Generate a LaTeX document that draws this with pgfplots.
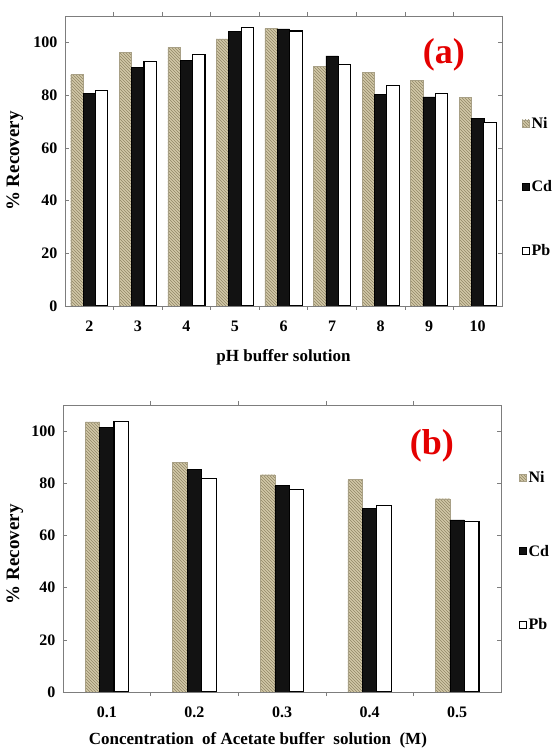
\documentclass[border=0pt]{standalone}
\usepackage{fontspec}
\setmainfont{Liberation Serif}
\usepackage{pgfplots}
\pgfplotsset{compat=1.18}
\usetikzlibrary{patterns}

\definecolor{nifill}{RGB}{210,200,168}
\definecolor{nihatch}{RGB}{145,135,102}
\definecolor{cdfill}{RGB}{18,18,18}
\definecolor{framegray}{RGB}{125,125,125}
\definecolor{lblred}{RGB}{228,0,0}

\pgfplotsset{
  mybars/.style={
    ybar=0pt, scale only axis, ymin=0, ymax=110, ytick={0,20,...,100},
    axis line style={draw=framegray, line width=0.8pt},
    tick style={draw=framegray, line width=0.6pt},
    major x tick style={draw=none},
    minor tick length=4pt, major tick length=4pt,
    /pgf/number format/assume math mode=true,
    tick label style={font=\fontsize{16}{19}\selectfont\bfseries},
    xticklabel style={yshift=-7pt},
    yticklabel style={xshift=-4pt},
    label style={font=\fontsize{17}{20}\selectfont\bfseries},
    ylabel={\% Recovery},
    ylabel style={font=\fontsize{19}{22}\selectfont\bfseries},
    legend cell align=left,
    legend image code/.code={\draw[#1, line width=0.8pt] (0pt,-3.5pt) rectangle (7pt,3.5pt);},
    every axis legend/.append style={draw=none, fill=none, anchor=west,
      font=\fontsize{16}{19}\selectfont\bfseries, inner xsep=0pt, inner ysep=0pt},
  },
  ni/.style={fill=nifill, draw=nifill!80!black, line width=0.3pt, postaction={pattern=north west lines, pattern color=nihatch}},
  cd/.style={fill=cdfill, draw=black, line width=0.5pt},
  pb/.style={fill=white, draw=black, line width=1.1pt},
}

\begin{document}
\begin{tikzpicture}
\useasboundingbox (0pt,0pt) rectangle (556pt,749pt);

% ---------- (a) ----------
\begin{axis}[mybars,
  at={(65pt,443pt)}, anchor=south west, width=437pt, height=290pt,
  bar width=12.4pt,
  xmin=0.5, xmax=9.5,
  xtick={1,...,9}, xticklabels={2,3,4,5,6,7,8,9,10},
  minor xtick={1.5,2.5,...,8.5},
  xlabel={pH buffer solution},
  xlabel style={at={(axis description cs:0.5,-0.176)}, anchor=center},
  ylabel style={at={(axis description cs:-0.115,0.5)}, anchor=center, rotate=0},
  legend style={at={(axis description cs:1.045,0.41)}, row sep=47pt},
]
\addplot[ni] coordinates {(1,87.8)(2,96.2)(3,98.1)(4,101.3)(5,105.3)(6,91.0)(7,88.6)(8,85.7)(9,79.1)};
\addplot[cd] coordinates {(1,80.7)(2,90.5)(3,93.3)(4,104.1)(5,105.1)(6,94.9)(7,80.3)(8,79.3)(9,71.1)};
\addplot[pb] coordinates {(1,81.6)(2,92.6)(3,95.3)(4,105.5)(5,104.3)(6,91.5)(7,83.6)(8,80.5)(9,69.5)};
\legend{Ni,Cd,Pb}
\node[text=lblred, font=\fontsize{36}{40}\selectfont\bfseries] at (rel axis cs:0.867,0.865) {(a)};
\end{axis}

% ---------- (b) ----------
\begin{axis}[mybars,
  at={(63pt,57pt)}, anchor=south west, width=438pt, height=287pt,
  bar width=14.5pt,
  xmin=0.5, xmax=5.5,
  xtick={1,...,5}, xticklabels={0.1,0.2,0.3,0.4,0.5},
  minor xtick={1.5,2.5,...,4.5},
  xlabel={Concentration\ \ of Acetate buffer\ \ solution\ \ (M)},
  xlabel style={at={(axis description cs:0.445,-0.167)}, anchor=center},
  ylabel style={at={(axis description cs:-0.11,0.48)}, anchor=center, rotate=0},
  legend style={at={(axis description cs:1.04,0.49)}, row sep=57pt},
]
\addplot[ni] coordinates {(1,103.5)(2,88.1)(3,83.3)(4,81.4)(5,74.1)};
\addplot[cd] coordinates {(1,101.5)(2,85.3)(3,79.1)(4,70.3)(5,66.0)};
\addplot[pb] coordinates {(1,103.7)(2,81.7)(3,77.6)(4,71.5)(5,65.3)};
\legend{Ni,Cd,Pb}
\node[text=lblred, font=\fontsize{36}{40}\selectfont\bfseries] at (rel axis cs:0.842,0.857) {(b)};
\end{axis}
\end{tikzpicture}
\end{document}
